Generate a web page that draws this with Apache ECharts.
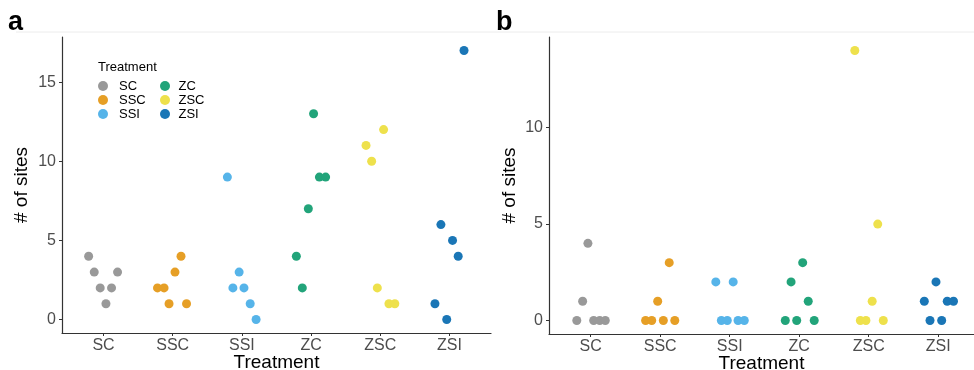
<!DOCTYPE html>
<html>
<head>
<meta charset="utf-8">
<script src="https://cdn.jsdelivr.net/npm/echarts@6/dist/echarts.min.js"></script>
<style>
  html, body { margin: 0; padding: 0; background: #fff; }
  #chart { width: 974px; height: 370px; }
</style>
</head>
<body>
<div id="chart"></div>
<script>
// Treatment groups, in axis order
const treatments = ['SC', 'SSC', 'SSI', 'ZC', 'ZSC', 'ZSI'];
const treatmentColors = ['#999999', '#E69F26', '#56B4E9', '#22A47A', '#EEE14C', '#1A76B6'];

// Panel a: number of sites per replicate, with horizontal jitter offsets
const sitesA = {
  SC:  [4, 3, 3, 2, 2, 1],
  SSC: [2, 2, 3, 4, 1, 1],
  SSI: [9, 3, 2, 2, 1, 0],
  ZC:  [13, 9, 9, 7, 4, 2],
  ZSC: [12, 11, 10, 2, 1, 1],
  ZSI: [17, 6, 5, 4, 1, 0]
};
const jitterA = {
  SC:  [-0.215, -0.134, 0.203, -0.048, 0.116, 0.035],
  SSC: [-0.22, -0.125, 0.033, 0.12, -0.053, 0.2],
  SSI: [-0.21, -0.04, -0.13, 0.03, 0.12, 0.205],
  ZC:  [0.036, 0.12, 0.21, -0.04, -0.213, -0.127],
  ZSC: [0.048, -0.206, -0.125, -0.043, 0.125, 0.21],
  ZSI: [0.21, -0.124, 0.044, 0.126, -0.21, -0.04]
};

// Panel b
const sitesB = {
  SC:  [0, 1, 4, 0, 0, 0],
  SSC: [0, 0, 1, 0, 3, 0],
  SSI: [2, 0, 0, 2, 0, 0],
  ZC:  [0, 2, 0, 3, 1, 0],
  ZSC: [14, 0, 0, 1, 5, 0],
  ZSI: [1, 0, 2, 0, 1, 1]
};
const jitterB = {
  SC:  [-0.2, -0.116, -0.04, 0.043, 0.13, 0.21],
  SSC: [-0.21, -0.122, -0.036, 0.045, 0.13, 0.21],
  SSI: [-0.2, -0.12, -0.035, 0.05, 0.12, 0.21],
  ZC:  [-0.2, -0.117, -0.036, 0.05, 0.13, 0.216],
  ZSC: [-0.2, -0.12, -0.04, 0.05, 0.13, 0.21],
  ZSI: [-0.2, -0.118, -0.032, 0.05, 0.13, 0.22]
};

const ticksA = [0, 5, 10, 15];
const ticksB = [0, 5, 10];
const catPositions = [1, 2, 3, 4, 5, 6];

const FONT = 'Liberation Sans, Arial, sans-serif';

function points(values, jitter, idx) {
  return values.map((v, i) => [catPositions[idx] + jitter[i], v]);
}

function xAxisFor(gridIndex, max) {
  return {
    type: 'value', gridIndex: gridIndex, min: 0.4, max: max,
    name: 'Treatment', nameLocation: 'middle', nameGap: 20, nameMoveOverlap: false,
    nameTextStyle: { fontFamily: FONT, fontSize: 19, color: '#000' },
    axisLine: { show: true, onZero: false, lineStyle: { color: '#333', width: 1.2 } },
    axisTick: { show: true, length: 3, customValues: catPositions, lineStyle: { color: '#333' } },
    axisLabel: {
      customValues: catPositions, margin: 5,
      fontFamily: FONT, fontSize: 16, color: '#4d4d4d',
      formatter: v => treatments[Math.round(v) - 1] || ''
    },
    splitLine: { show: false }
  };
}

function yAxisFor(gridIndex, min, max, ticks, gap) {
  return {
    type: 'value', gridIndex: gridIndex, min: min, max: max,
    name: '# of sites', nameLocation: 'middle', nameGap: gap, nameRotate: 90, nameMoveOverlap: false,
    nameTextStyle: { fontFamily: FONT, fontSize: 19, color: '#000' },
    axisLine: { show: true, onZero: false, lineStyle: { color: '#333', width: 1.2 } },
    axisTick: { show: true, length: 3, customValues: ticks, lineStyle: { color: '#333' } },
    axisLabel: { customValues: ticks, margin: 6, fontFamily: FONT, fontSize: 16, color: '#4d4d4d' },
    splitLine: { show: false }
  };
}

const series = [];
treatments.forEach((t, i) => {
  series.push({
    name: t, type: 'scatter', xAxisIndex: 0, yAxisIndex: 0,
    symbolSize: 9, itemStyle: { color: treatmentColors[i], opacity: 1 },
    data: points(sitesA[t], jitterA[t], i)
  });
});
treatments.forEach((t, i) => {
  series.push({
    name: t, type: 'scatter', xAxisIndex: 1, yAxisIndex: 1,
    symbolSize: 9, itemStyle: { color: treatmentColors[i], opacity: 1 },
    data: points(sitesB[t], jitterB[t], i)
  });
});

const legendCommon = {
  orient: 'vertical', icon: 'circle', itemHeight: 10, itemGap: 0, padding: 0,
  selectedMode: false,
  textStyle: { fontFamily: FONT, fontSize: 13, color: '#000', lineHeight: 14 }
};

const option = {
  animation: false,
  backgroundColor: '#fff',
  grid: [
    { left: 62, right: 483, top: 37, bottom: 37, outerBoundsMode: 'none' },
    { left: 549, right: 0, top: 37, bottom: 36, outerBoundsMode: 'none' }
  ],
  xAxis: [xAxisFor(0, 6.6), xAxisFor(1, 6.515)],
  yAxis: [yAxisFor(0, -0.85, 17.85, ticksA, 31), yAxisFor(1, -0.7, 14.7, ticksB, 30)],
  legend: [
    Object.assign({}, legendCommon, { left: 98, top: 79, itemWidth: 22, data: treatments.slice(0, 3) }),
    Object.assign({}, legendCommon, { left: 160, top: 79, itemWidth: 17, data: treatments.slice(3) })
  ],
  graphic: [
    { type: 'line', shape: { x1: 16, y1: 32, x2: 974, y2: 32 }, style: { stroke: '#ececec', lineWidth: 1 }, silent: true },
    { type: 'text', left: 8, top: 9, style: { text: 'a', font: 'bold 27px ' + FONT, fill: '#000' } },
    { type: 'text', left: 496, top: 9, style: { text: 'b', font: 'bold 27px ' + FONT, fill: '#000' } },
    { type: 'text', left: 98, top: 61, style: { text: 'Treatment', font: '13px ' + FONT, fill: '#000' } }
  ],
  series: series
};

const chart = echarts.init(document.getElementById('chart'), null, { renderer: 'canvas' });
chart.setOption(option);
</script>
</body>
</html>
